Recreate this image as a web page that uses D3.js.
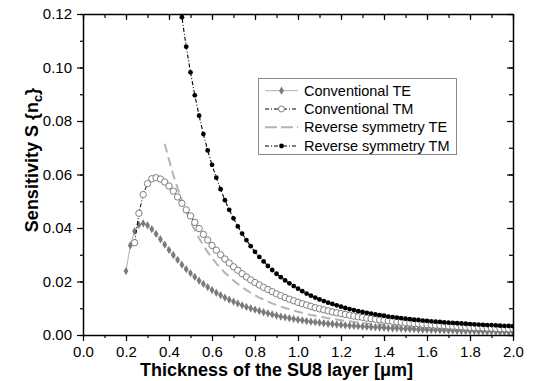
<!DOCTYPE html>
<html><head><meta charset="utf-8">
<script src="https://cdn.jsdelivr.net/npm/d3@7"></script>
<style>html,body{margin:0;padding:0;background:#fff;}svg{display:block;font-family:"Liberation Sans",Arial,sans-serif;}</style>
</head><body><svg id="c" width="542" height="381"></svg>
<script>
const thickness = [
0.20,0.22,0.24,0.26,0.28,0.30,0.32,0.34,0.36,0.38,
0.40,0.42,0.44,0.46,0.48,0.50,0.52,0.54,0.56,0.58,
0.60,0.62,0.64,0.66,0.68,0.70,0.72,0.74,0.76,0.78,
0.80,0.82,0.84,0.86,0.88,0.90,0.92,0.94,0.96,0.98,
1.00,1.02,1.04,1.06,1.08,1.10,1.12,1.14,1.16,1.18,
1.20,1.22,1.24,1.26,1.28,1.30,1.32,1.34,1.36,1.38,
1.40,1.42,1.44,1.46,1.48,1.50,1.52,1.54,1.56,1.58,
1.60,1.62,1.64,1.66,1.68,1.70,1.72,1.74,1.76,1.78,
1.80,1.82,1.84,1.86,1.88,1.90,1.92,1.94,1.96,1.98,
2.00];
const convTE = [
.0239,.0335,.0388,.0412,.0417,.0410,.0396,.0378,.0358,.0338,
.0318,.0299,.0281,.0263,.0246,.0231,.0217,.0203,.0191,.0179,
.0168,.0158,.0149,.0140,.0132,.0125,.0118,.0111,.0105,.0100,
.0095,.0090,.0085,.0081,.0077,.0073,.0069,.0066,.0063,.0060,
.0057,.0055,.0052,.0050,.0048,.0046,.0044,.0042,.0041,.0039,
.0038,.0036,.0035,.0034,.0033,.0032,.0031,.0030,.0029,.0028,
.0027,.0026,.0025,.0025,.0024,.0023,.0022,.0022,.0021,.0020,
.0020,.0019,.0019,.0018,.0018,.0017,.0017,.0016,.0016,.0015,
.0015,.0015,.0014,.0014,.0013,.0013,.0013,.0012,.0012,.0012,
.0011];
const convTM = [
null,null,.0345,.0455,.0525,.0566,.0584,.0588,.0583,.0572,
.0557,.0538,.0516,.0492,.0468,.0445,.0421,.0398,.0376,.0355,
.0335,.0317,.0300,.0284,.0269,.0255,.0242,.0229,.0217,.0206,
.0196,.0187,.0178,.0170,.0162,.0154,.0147,.0140,.0134,.0128,
.0122,.0117,.0112,.0107,.0102,.0098,.0094,.0090,.0086,.0083,
.0080,.0077,.0074,.0071,.0068,.0066,.0063,.0061,.0059,.0057,
.0055,.0053,.0051,.0049,.0048,.0046,.0045,.0043,.0042,.0040,
.0039,.0038,.0037,.0036,.0035,.0034,.0033,.0032,.0031,.0030,
.0029,.0028,.0028,.0027,.0026,.0026,.0025,.0024,.0024,.0023,
.0023];
const revTE = [
null,null,null,null,null,null,null,null,null,.0715,
.0655,.0598,.0548,.0503,.0462,.0425,.0392,.0362,.0335,.0310,
.0288,.0268,.0250,.0233,.0218,.0204,.0191,.0179,.0168,.0158,
.0149,.0140,.0132,.0125,.0118,.0112,.0106,.0101,.0096,.0091,
.0087,.0083,.0079,.0075,.0072,.0069,.0066,.0063,.0060,.0058,
.0055,.0053,.0051,.0049,.0047,.0045,.0043,.0042,.0040,.0039,
.0037,.0036,.0035,.0033,.0032,.0031,.0030,.0029,.0028,.0027,
.0026,.0025,.0025,.0024,.0023,.0022,.0022,.0021,.0020,.0020,
.0019,.0019,.0018,.0018,.0017,.0017,.0016,.0016,.0015,.0015,
.0014];
const revTM = [
null,null,null,null,null,null,null,null,null,null,
null,null,.1315,.1188,.1078,.0982,.0896,.0820,.0751,.0690,
.0636,.0588,.0545,.0504,.0468,.0436,.0406,.0379,.0355,.0332,
.0311,.0292,.0275,.0258,.0243,.0229,.0216,.0204,.0193,.0183,
.0173,.0164,.0155,.0147,.0140,.0133,.0127,.0121,.0116,.0111,
.0106,.0101,.0097,.0093,.0089,.0086,.0083,.0080,.0077,.0074,
.0072,.0069,.0067,.0065,.0063,.0061,.0059,.0057,.0056,.0054,
.0053,.0051,.0050,.0049,.0047,.0046,.0045,.0044,.0043,.0042,
.0041,.0040,.0039,.0038,.0037,.0037,.0036,.0035,.0034,.0034,
.0033];
const xTicks = [0.0,0.2,0.4,0.6,0.8,1.0,1.2,1.4,1.6,1.8,2.0];
const yTicks = [0.00,0.02,0.04,0.06,0.08,0.10,0.12];
const seriesNames = ["Conventional TE","Conventional TM","Reverse symmetry TE","Reverse symmetry TM"];
const xTitle = "Thickness of the SU8 layer [\u03bcm]";

const svg = d3.select("#c");
const L=83, R=513, T=14, B=335;
const x = d3.scaleLinear().domain([0,2]).range([L,R]);
const y = d3.scaleLinear().domain([0,0.12]).range([B,T]);

svg.append("defs").append("clipPath").attr("id","clip")
  .append("rect").attr("x",L).attr("y",T).attr("width",R-L).attr("height",B-T);

function pts(arr){ return thickness.map((t,i)=>({t, v:arr[i]})).filter(d=>d.v!=null); }
const line = d3.line().x(d=>x(d.t)).y(d=>y(d.v));
const g = svg.append("g").attr("clip-path","url(#clip)");

// Reverse symmetry TE: grey long dashes
g.append("path").attr("d",line(pts(revTE))).attr("fill","none")
  .attr("stroke","#b4b4b4").attr("stroke-width",2).attr("stroke-dasharray","9,5");
// Conventional TE
g.append("path").attr("d",line(pts(convTE))).attr("fill","none")
  .attr("stroke","#9a9a9a").attr("stroke-width",0.8);
g.selectAll(".mte").data(pts(convTE)).join("path")
  .attr("transform",d=>`translate(${x(d.t)},${y(d.v)})`)
  .attr("d",d3.symbol(d3.symbolDiamond,20)()).attr("fill","#7a7a7a");
// Conventional TM
g.append("path").attr("d",line(pts(convTM))).attr("fill","none")
  .attr("stroke","#000").attr("stroke-width",1).attr("stroke-dasharray","4,2,1,2");
g.selectAll(".mtm").data(pts(convTM)).join("circle")
  .attr("cx",d=>x(d.t)).attr("cy",d=>y(d.v)).attr("r",3.2)
  .attr("fill","#fff").attr("stroke","#707070").attr("stroke-width",0.9);
// Reverse symmetry TM
g.append("path").attr("d",line(pts(revTM))).attr("fill","none")
  .attr("stroke","#000").attr("stroke-width",1.1).attr("stroke-dasharray","4,2,1,2");
g.selectAll(".mrtm").data(pts(revTM)).join("circle")
  .attr("cx",d=>x(d.t)).attr("cy",d=>y(d.v)).attr("r",2.4).attr("fill","#000");

// Axes
const fs = 15;
const minorX = d3.range(0,2.0001,0.1);
const minorY = d3.range(0,0.12001,0.01);
const axisStyle = sel => { sel.select(".domain").attr("stroke","#000").attr("stroke-width",1.5);
  sel.selectAll(".tick line").attr("stroke","#000").attr("stroke-width",1.2);
  sel.selectAll("text").attr("font-size",fs).attr("fill","#000").attr("font-family","Liberation Sans, Arial, sans-serif"); };

// bottom
svg.append("g").attr("transform",`translate(0,${B})`)
  .call(d3.axisBottom(x).tickValues(minorX).tickSize(3).tickFormat(""))
  .call(s=>{s.select(".domain").remove(); s.selectAll("line").attr("stroke","#000").attr("stroke-width",1.2);});
svg.append("g").attr("transform",`translate(0,${B})`)
  .call(d3.axisBottom(x).tickValues(xTicks).tickSize(6).tickSizeOuter(0).tickPadding(5).tickFormat(d3.format(".1f")))
  .call(axisStyle);
// top
svg.append("g").attr("transform",`translate(0,${T})`)
  .call(d3.axisBottom(x).tickValues(minorX).tickSize(4).tickFormat(""))
  .call(s=>{s.select(".domain").remove(); s.selectAll("line").attr("stroke","#000").attr("stroke-width",1.2);});
svg.append("g").attr("transform",`translate(0,${T})`)
  .call(d3.axisBottom(x).tickValues(xTicks).tickSize(6).tickSizeOuter(0).tickFormat(""))
  .call(axisStyle);
// left
svg.append("g").attr("transform",`translate(${L},0)`)
  .call(d3.axisLeft(y).tickValues(minorY).tickSize(3).tickFormat(""))
  .call(s=>{s.select(".domain").remove(); s.selectAll("line").attr("stroke","#000").attr("stroke-width",1.2);});
svg.append("g").attr("transform",`translate(${L},0)`)
  .call(d3.axisLeft(y).tickValues(yTicks).tickSize(6).tickSizeOuter(0).tickPadding(5).tickFormat(d3.format(".2f")))
  .call(axisStyle);
// right
svg.append("g").attr("transform",`translate(${R},0)`)
  .call(d3.axisRight(y).tickValues(minorY).tickSize(-4).tickFormat(""))
  .call(s=>{s.select(".domain").remove(); s.selectAll("line").attr("stroke","#000").attr("stroke-width",1.2);});
svg.append("g").attr("transform",`translate(${R},0)`)
  .call(d3.axisRight(y).tickValues(yTicks).tickSize(-6).tickSizeOuter(0).tickFormat(""))
  .call(axisStyle);

// Titles
svg.append("text").attr("x",140).attr("y",376).attr("font-size",18).attr("font-weight","bold")
  .text(xTitle);
const yt = svg.append("text").attr("transform","translate(38,160) rotate(-90)")
  .attr("text-anchor","middle").attr("font-size",18).attr("font-weight","bold");
yt.append("tspan").text("Sensitivity S {n");
yt.append("tspan").attr("font-size",13).attr("dy",4).text("c");
yt.append("tspan").attr("dy",-4).text("}");

// Legend
const lg = svg.append("g");
lg.append("rect").attr("x",258.5).attr("y",78.5).attr("width",198).attr("height",76)
  .attr("fill","#fff").attr("stroke","#8a8a8a").attr("stroke-width",1);
const rowsY = [90.7,109,127.3,146];
const lx0=265, lx1=298, lxm=281.5;
// row 0
lg.append("line").attr("x1",lx0).attr("x2",lx1).attr("y1",rowsY[0]).attr("y2",rowsY[0]).attr("stroke","#9a9a9a").attr("stroke-width",0.8);
lg.append("path").attr("transform",`translate(${lxm},${rowsY[0]})`).attr("d",d3.symbol(d3.symbolDiamond,20)()).attr("fill","#7a7a7a");
// row 1
lg.append("line").attr("x1",lx0).attr("x2",lx1).attr("y1",rowsY[1]).attr("y2",rowsY[1]).attr("stroke","#000").attr("stroke-width",1).attr("stroke-dasharray","4,2,1,2");
lg.append("circle").attr("cx",lxm).attr("cy",rowsY[1]).attr("r",3).attr("fill","#fff").attr("stroke","#707070").attr("stroke-width",0.9);
// row 2
lg.append("line").attr("x1",lx0).attr("x2",lx1).attr("y1",rowsY[2]).attr("y2",rowsY[2]).attr("stroke","#b4b4b4").attr("stroke-width",2).attr("stroke-dasharray","12,4");
// row 3
lg.append("line").attr("x1",lx0).attr("x2",lx1).attr("y1",rowsY[3]).attr("y2",rowsY[3]).attr("stroke","#000").attr("stroke-width",1.1).attr("stroke-dasharray","4,2,1,2");
lg.append("circle").attr("cx",lxm).attr("cy",rowsY[3]).attr("r",2.4).attr("fill","#000");
lg.selectAll(".lt").data(seriesNames).join("text")
  .attr("x",304).attr("y",(d,i)=>rowsY[i]+5).attr("font-size",14.5).attr("fill","#000").text(d=>d);
</script></body></html>
